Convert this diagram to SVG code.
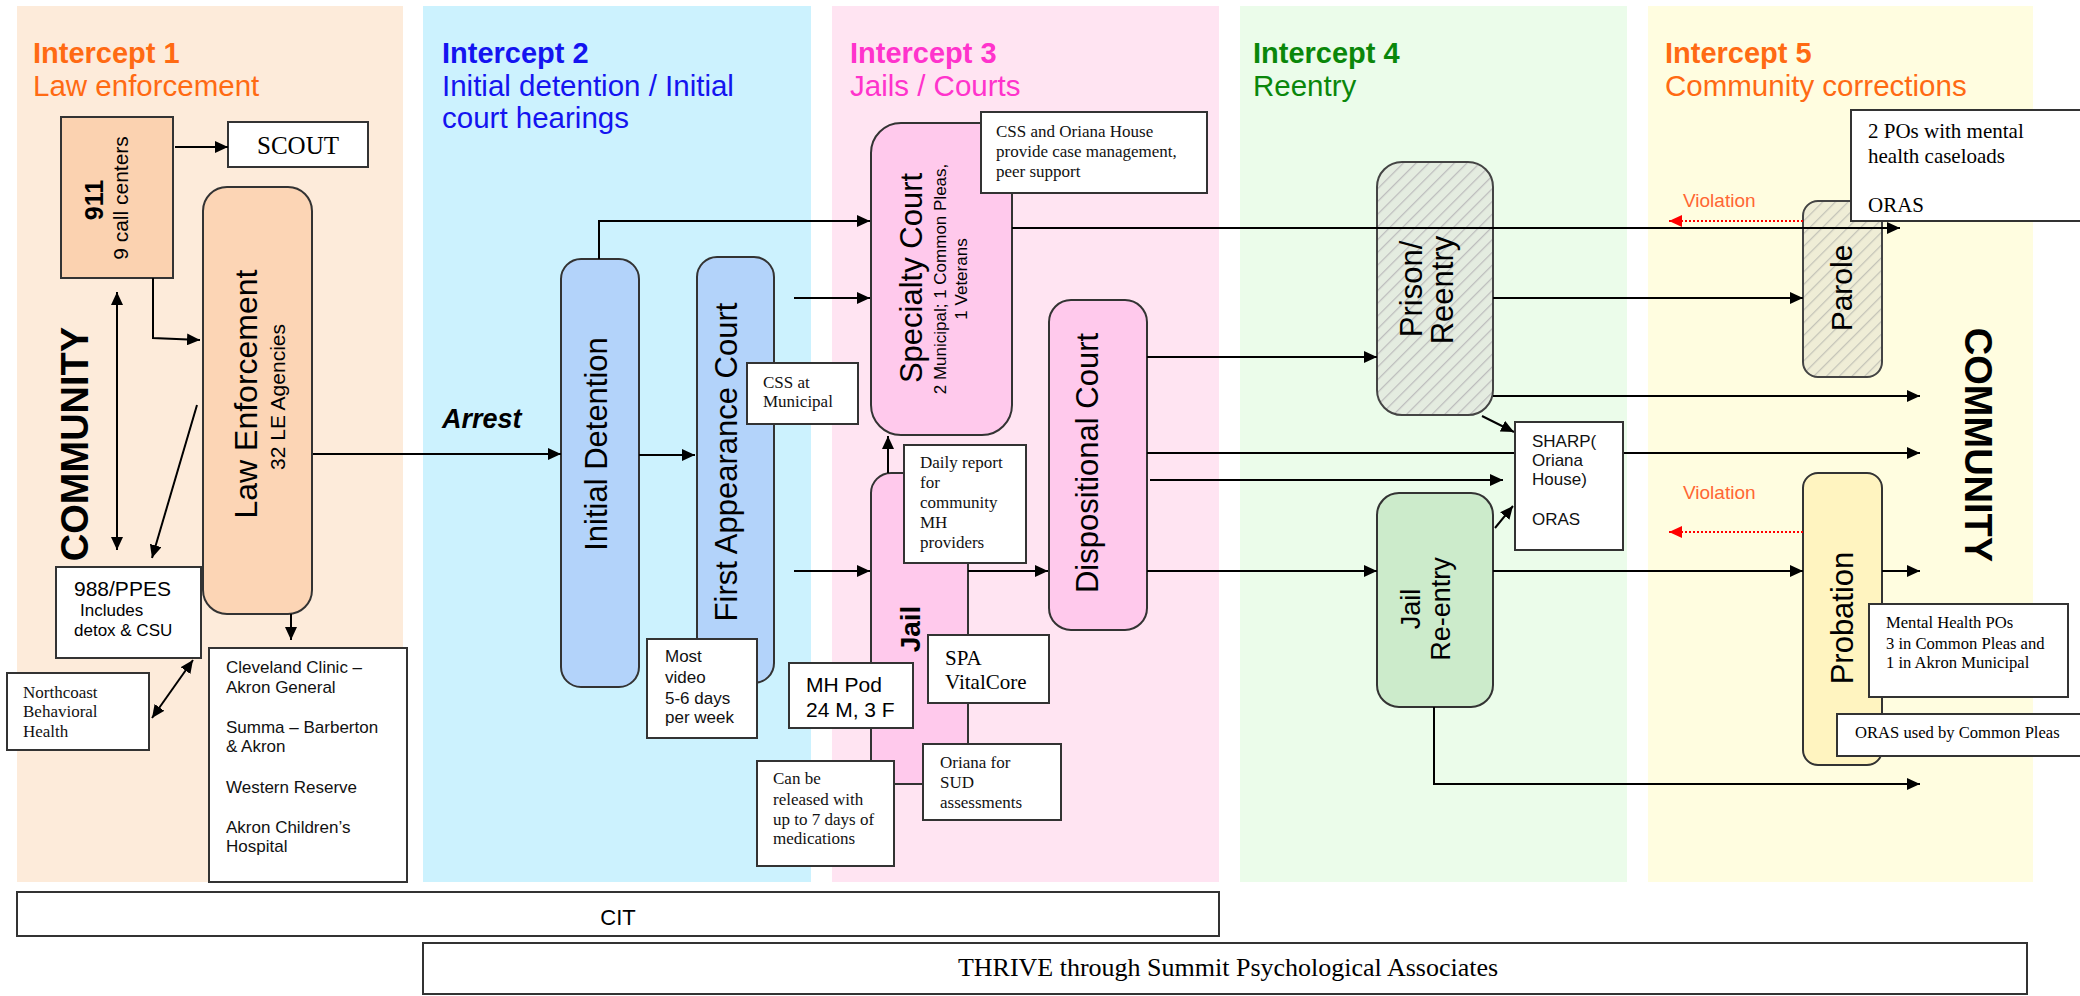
<svg xmlns="http://www.w3.org/2000/svg" width="2080" height="996" viewBox="0 0 2080 996">
<style>
.sans{font-family:"Liberation Sans",Arial,sans-serif}
.serif{font-family:"Liberation Serif","Times New Roman",serif}
.t1{font-size:29px;font-weight:bold}
.t2{font-size:29.5px}
.box{fill:#fff;stroke:#333;stroke-width:2}
.node{stroke:#333;stroke-width:2}
.big{font-size:31px}
.note{font-size:17px;fill:#111}
.cn{fill:none;stroke:#000;stroke-width:2}
.vio{fill:none;stroke:#f00;stroke-width:2;stroke-dasharray:2 2}
</style>
<defs>
<marker id="ah" markerUnits="userSpaceOnUse" markerWidth="13" markerHeight="12" refX="13" refY="6" orient="auto-start-reverse"><path d="M0,0 L13,6 L0,12 z" fill="#000"/></marker>
<marker id="ahr" markerUnits="userSpaceOnUse" markerWidth="13" markerHeight="12" refX="13" refY="6" orient="auto"><path d="M0,0 L13,6 L0,12 z" fill="#f00"/></marker>
<pattern id="hatchG" width="9" height="9" patternUnits="userSpaceOnUse" patternTransform="rotate(45)"><rect width="9" height="9" fill="#e4ece0"/><line x1="0" y1="0" x2="0" y2="9" stroke="#bdbdbd" stroke-width="2.5"/></pattern>
<pattern id="hatchY" width="9" height="9" patternUnits="userSpaceOnUse" patternTransform="rotate(45)"><rect width="9" height="9" fill="#efedd6"/><line x1="0" y1="0" x2="0" y2="9" stroke="#c4c4b8" stroke-width="2.5"/></pattern>
</defs>

<g id="panels">
<rect x="17" y="6" width="386" height="876" fill="#fdebda"/>
<rect x="423" y="6" width="388" height="876" fill="#ccf2fe"/>
<rect x="832" y="6" width="387" height="876" fill="#ffe4f2"/>
<rect x="1240" y="6" width="387" height="876" fill="#ebfcea"/>
<rect x="1648" y="6" width="385" height="876" fill="#fffde0"/>
</g>

<g id="titles" class="sans">
<text x="33" y="63" class="t1" fill="#ff6a13">Intercept 1</text>
<text x="33" y="96" class="t2" fill="#ff6a13">Law enforcement</text>
<text x="442" y="63" class="t1" fill="#1414f0">Intercept 2</text>
<text x="442" y="96" class="t2" fill="#1414f0">Initial detention / Initial</text>
<text x="442" y="128" class="t2" fill="#1414f0">court hearings</text>
<text x="850" y="63" class="t1" fill="#ff33cc">Intercept 3</text>
<text x="850" y="96" class="t2" fill="#ff33cc">Jails / Courts</text>
<text x="1253" y="63" class="t1" fill="#0a870a">Intercept 4</text>
<text x="1253" y="96" class="t2" fill="#0a870a">Reentry</text>
<text x="1665" y="63" class="t1" fill="#ff6a13">Intercept 5</text>
<text x="1665" y="96" class="t2" fill="#ff6a13">Community corrections</text>
<text x="442" y="428" font-size="27" font-weight="bold" font-style="italic" fill="#000">Arrest</text>
<text transform="translate(88,444) rotate(-90)" text-anchor="middle" font-size="38" font-weight="bold" fill="#000">COMMUNITY</text>
<text transform="translate(1965,445) rotate(90)" text-anchor="middle" font-size="38" font-weight="bold" fill="#000">COMMUNITY</text>
<text x="1683" y="207" font-size="19" fill="#ff6633">Violation</text>
<text x="1683" y="499" font-size="19" fill="#ff6633">Violation</text>
</g>

<g id="n911">
<rect x="61" y="117" width="112" height="161" fill="#fbd2b0" class="node"/>
<text class="sans" transform="translate(103,200) rotate(-90)" text-anchor="middle" font-size="25" font-weight="bold">911</text>
<text class="sans" transform="translate(128,198) rotate(-90)" text-anchor="middle" font-size="21">9 call centers</text>
</g>
<g id="scout">
<rect x="228" y="122" width="140" height="45" class="box"/>
<text class="serif" x="298" y="154" text-anchor="middle" font-size="25">SCOUT</text>
</g>
<g id="lawEnforcement">
<rect x="203" y="187" width="109" height="427" rx="24" fill="#fcd5b5" class="node"/>
<text class="sans" transform="translate(257,394) rotate(-90)" text-anchor="middle" font-size="32">Law Enforcement</text>
<text class="sans" transform="translate(285,397) rotate(-90)" text-anchor="middle" font-size="21">32 LE Agencies</text>
</g>
<g id="ppes">
<rect x="56" y="567" width="145" height="91" class="box"/>
<text class="sans" x="74" y="596" font-size="21">988/PPES</text>
<text class="sans" x="80" y="616" font-size="17">Includes</text>
<text class="sans" x="74" y="636" font-size="17">detox &amp; CSU</text>
</g>
<g id="northcoast">
<rect x="7" y="673" width="142" height="77" class="box"/>
<text class="serif note" x="23" y="698">Northcoast</text>
<text class="serif note" x="23" y="717">Behavioral</text>
<text class="serif note" x="23" y="737">Health</text>
</g>
<g id="hospitals">
<rect x="209" y="648" width="198" height="234" class="box"/>
<g class="sans note">
<text x="226" y="673">Cleveland Clinic –</text>
<text x="226" y="693">Akron General</text>
<text x="226" y="733">Summa – Barberton</text>
<text x="226" y="752">&amp; Akron</text>
<text x="226" y="793">Western Reserve</text>
<text x="226" y="833">Akron Children’s</text>
<text x="226" y="852">Hospital</text>
</g>
</g>

<g id="initialDetention">
<rect x="561" y="259" width="78" height="428" rx="20" fill="#b3d3fa" class="node"/>
<text class="sans big" transform="translate(607,444) rotate(-90)" text-anchor="middle">Initial Detention</text>
</g>
<g id="firstAppearance">
<rect x="697" y="257" width="77" height="426" rx="20" fill="#b3d3fa" class="node"/>
<text class="sans big" transform="translate(737,462) rotate(-90)" text-anchor="middle">First Appearance Court</text>
</g>
<g id="cssMunicipal">
<rect x="747" y="363" width="111" height="61" class="box"/>
<text class="serif note" x="763" y="388">CSS at</text>
<text class="serif note" x="763" y="407">Municipal</text>
</g>
<g id="mostVideo">
<rect x="647" y="639" width="110" height="99" class="box"/>
<text class="sans note" x="665" y="662">Most</text>
<text class="sans note" x="665" y="683">video</text>
<text class="sans note" x="665" y="704">5-6 days</text>
<text class="sans note" x="665" y="723">per week</text>
</g>

<g id="specialtyCourt">
<rect x="871" y="123" width="141" height="312" rx="30" fill="#ffc9ec" class="node"/>
<text class="sans big" transform="translate(922,278) rotate(-90)" text-anchor="middle">Specialty Court</text>
<text class="sans" transform="translate(946,279) rotate(-90)" text-anchor="middle" font-size="17">2 Municipal; 1 Common Pleas,</text>
<text class="sans" transform="translate(967,279) rotate(-90)" text-anchor="middle" font-size="17">1 Veterans</text>
</g>
<g id="cssOriana">
<rect x="981" y="112" width="226" height="81" class="box"/>
<text class="serif note" x="996" y="137">CSS and Oriana House</text>
<text class="serif note" x="996" y="157">provide case management,</text>
<text class="serif note" x="996" y="177">peer support</text>
</g>
<g id="jail">
<rect x="871" y="473" width="97" height="311" rx="20" fill="#ffc9ec" class="node"/>
<text class="sans" transform="translate(920,629) rotate(-90)" text-anchor="middle" font-size="28" font-weight="bold">Jail</text>
</g>
<g id="dailyReport">
<rect x="904" y="445" width="122" height="118" class="box"/>
<text class="serif note" x="920" y="468">Daily report</text>
<text class="serif note" x="920" y="488">for</text>
<text class="serif note" x="920" y="508">community</text>
<text class="serif note" x="920" y="528">MH</text>
<text class="serif note" x="920" y="548">providers</text>
</g>
<g id="dispositionalCourt">
<rect x="1049" y="300" width="98" height="330" rx="22" fill="#ffc9ec" class="node"/>
<text class="sans big" transform="translate(1098,463) rotate(-90)" text-anchor="middle">Dispositional Court</text>
</g>
<g id="mhPod">
<rect x="789" y="663" width="124" height="65" class="box"/>
<text class="sans" x="806" y="692" font-size="21">MH Pod</text>
<text class="sans" x="806" y="717" font-size="21">24 M, 3 F</text>
</g>
<g id="spa">
<rect x="928" y="635" width="121" height="68" class="box"/>
<text class="serif" x="945" y="665" font-size="21">SPA</text>
<text class="serif" x="945" y="689" font-size="21">VitalCore</text>
</g>
<g id="released">
<rect x="757" y="761" width="137" height="105" class="box"/>
<text class="serif note" x="773" y="784">Can be</text>
<text class="serif note" x="773" y="805">released with</text>
<text class="serif note" x="773" y="825">up to 7 days of</text>
<text class="serif note" x="773" y="844">medications</text>
</g>
<g id="orianaSud">
<rect x="923" y="744" width="138" height="76" class="box"/>
<text class="serif note" x="940" y="768">Oriana for</text>
<text class="serif note" x="940" y="788">SUD</text>
<text class="serif note" x="940" y="808">assessments</text>
</g>

<g id="prisonReentry">
<rect x="1377" y="162" width="116" height="253" rx="25" fill="url(#hatchG)" stroke="#444" stroke-width="2"/>
<text class="sans big" transform="translate(1422,289) rotate(-90)" text-anchor="middle">Prison/</text>
<text class="sans big" transform="translate(1453,290) rotate(-90)" text-anchor="middle">Reentry</text>
</g>
<g id="jailReentry">
<rect x="1377" y="493" width="116" height="214" rx="22" fill="#ccebcb" class="node"/>
<text class="sans" transform="translate(1420,609) rotate(-90)" text-anchor="middle" font-size="27">Jail</text>
<text class="sans" transform="translate(1450,609) rotate(-90)" text-anchor="middle" font-size="27">Re-entry</text>
</g>
<g id="parole">
<rect x="1803" y="201" width="79" height="176" rx="15" fill="url(#hatchY)" stroke="#444" stroke-width="2"/>
<text class="sans" transform="translate(1852,288) rotate(-90)" text-anchor="middle" font-size="30">Parole</text>
</g>
<g id="probation">
<rect x="1803" y="473" width="79" height="292" rx="15" fill="#fff4c0" class="node"/>
<text class="sans big" transform="translate(1853,618) rotate(-90)" text-anchor="middle">Probation</text>
</g>

<g id="connectors">
<path class="cn" d="M175,147 H228" marker-end="url(#ah)"/>
<path class="cn" d="M153,278 V338 L200,340" marker-end="url(#ah)"/>
<path class="cn" d="M117,292 V550" marker-start="url(#ah)" marker-end="url(#ah)"/>
<path class="cn" d="M197,405 L152,558" marker-end="url(#ah)"/>
<path class="cn" d="M193,660 L152,718" marker-start="url(#ah)" marker-end="url(#ah)"/>
<path class="cn" d="M291,614 V640" marker-end="url(#ah)"/>
<path class="cn" d="M313,454 H561" marker-end="url(#ah)"/>
<path class="cn" d="M639,455 H695" marker-end="url(#ah)"/>
<path class="cn" d="M599,259 V221 H870" marker-end="url(#ah)"/>
<path class="cn" d="M794,298 H870" marker-end="url(#ah)"/>
<path class="cn" d="M794,571 H870" marker-end="url(#ah)"/>
<path class="cn" d="M888,473 V436" marker-end="url(#ah)"/>
<path class="cn" d="M968,571 H1048" marker-end="url(#ah)"/>
<path class="cn" d="M1012,228 H1900" marker-end="url(#ah)"/>
<path class="cn" d="M1147,357 H1377" marker-end="url(#ah)"/>
<path class="cn" d="M1147,453 H1515"/>
<path class="cn" d="M1623,453 H1920" marker-end="url(#ah)"/>
<path class="cn" d="M1150,480 H1503" marker-end="url(#ah)"/>
<path class="cn" d="M1147,571 H1377" marker-end="url(#ah)"/>
<path class="cn" d="M1493,298 H1803" marker-end="url(#ah)"/>
<path class="cn" d="M1493,396 H1920" marker-end="url(#ah)"/>
<path class="cn" d="M1482,416 L1514,432" marker-end="url(#ah)"/>
<path class="cn" d="M1495,528 L1513,506" marker-end="url(#ah)"/>
<path class="cn" d="M1493,571 H1803" marker-end="url(#ah)"/>
<path class="cn" d="M1882,571 H1920" marker-end="url(#ah)"/>
<path class="cn" d="M1434,707 V784 H1920" marker-end="url(#ah)"/>
<path class="vio" d="M1803,221 H1669" marker-end="url(#ahr)"/>
<path class="vio" d="M1803,532 H1669" marker-end="url(#ahr)"/>
</g>

<g id="sharp">
<rect x="1515" y="422" width="108" height="128" class="box"/>
<text class="sans note" x="1532" y="447">SHARP(</text>
<text class="sans note" x="1532" y="466">Oriana</text>
<text class="sans note" x="1532" y="485">House)</text>
<text class="sans note" x="1532" y="525">ORAS</text>
</g>
<g id="parolePOs">
<rect x="1851" y="110" width="232" height="111" class="box"/>
<text class="serif" x="1868" y="138" font-size="21">2 POs with mental</text>
<text class="serif" x="1868" y="163" font-size="21">health caseloads</text>
<text class="serif" x="1868" y="212" font-size="21">ORAS</text>
</g>
<g id="mhPOs">
<rect x="1869" y="604" width="199" height="93" class="box"/>
<text class="serif" x="1886" y="628" font-size="16.6">Mental Health POs</text>
<text class="serif" x="1886" y="649" font-size="16.6">3 in Common Pleas and</text>
<text class="serif" x="1886" y="668" font-size="16.6">1 in Akron Municipal</text>
</g>
<g id="orasCP">
<rect x="1837" y="714" width="246" height="42" class="box"/>
<text class="serif" x="1855" y="738" font-size="16.6">ORAS used by Common Pleas</text>
</g>

<g id="cit">
<rect x="17" y="892" width="1202" height="44" class="box"/>
<text class="sans" x="618" y="925" text-anchor="middle" font-size="22">CIT</text>
</g>
<g id="thrive">
<rect x="423" y="943" width="1604" height="51" class="box"/>
<text class="serif" x="1228" y="976" text-anchor="middle" font-size="26">THRIVE through Summit Psychological Associates</text>
</g>
</svg>
